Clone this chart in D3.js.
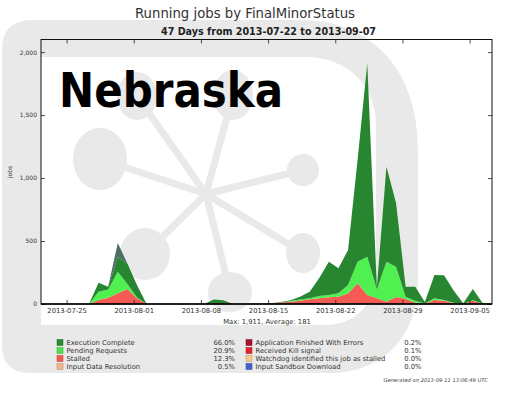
<!DOCTYPE html>
<html>
<head>
<meta charset="utf-8">
<script src="https://cdn.jsdelivr.net/npm/d3@7"></script>
<style>
  body { margin: 0; background: #fff; }
  svg { display: block; }
  text { font-family: "DejaVu Sans", sans-serif; }
</style>
</head>
<body>
<svg id="chart" width="517" height="398"></svg>
<script>
// one sample per day, taken at 08:00
const days = [
  "2013-07-22","2013-07-23","2013-07-24","2013-07-25","2013-07-26","2013-07-27","2013-07-28","2013-07-29",
  "2013-07-30","2013-07-31","2013-08-01","2013-08-02","2013-08-03","2013-08-04","2013-08-05","2013-08-06",
  "2013-08-07","2013-08-08","2013-08-09","2013-08-10","2013-08-11","2013-08-12","2013-08-13","2013-08-14",
  "2013-08-15","2013-08-16","2013-08-17","2013-08-18","2013-08-19","2013-08-20","2013-08-21","2013-08-22",
  "2013-08-23","2013-08-24","2013-08-25","2013-08-26","2013-08-27","2013-08-28","2013-08-29","2013-08-30",
  "2013-08-31","2013-09-01","2013-09-02","2013-09-03","2013-09-04","2013-09-05","2013-09-06","2013-09-07"
]
const sampleHour = 8

const appErrors = [0,0,0,0,0,0,0,0,0,0,0,0, 0,0,0,0,0,0,0,0,0,0,0,0,
  2,4,4,6,7,7,0,0,0,0,0,0,0,0,0,0,0,0,0,0,0,0,0,0]
const inputData = [0,0,0,0,0,0,0,0,0,0,0,0, 0,0,0,0,0,0,0,0,0,0,0,0,
  0,0,0,0,0,0,7,6,5,0,0,0,0,0,0,0,0,0,0,0,0,0,0,0]
const stalled = [0,0,0,0,0,0,32,50,85,120,45,0, 0,0,0,0,0,0,8,6,0,0,0,0,
  3,8,14,20,30,38,46,52,80,164,71,45,18,55,40,10,0,32,25,5,0,25,3,0]
const pending = [0,0,0,0,0,0,66,65,171,39,7,0, 0,0,0,0,0,0,0,0,0,0,0,0,
  0,0,5,10,8,19,18,27,66,172,305,70,318,241,18,16,3,13,7,5,0,5,0,0]
const execComplete = [0,0,0,0,0,0,71,22,119,163,98,0, 0,0,0,0,0,0,27,24,0,0,0,0,
  0,3,7,22,53,142,265,198,278,814,1535,17,754,506,79,111,12,185,196,98,5,90,7,0]
const sandbox = [0,0,0,0,0,0,0,0,109,0,0,0, 0,0,0,0,0,0,0,0,0,0,0,0,
  0,0,0,0,0,0,0,0,0,0,0,0,0,0,0,0,0,0,0,0,0,0,0,0]

const xTickLabels = ["2013-07-25","2013-08-01","2013-08-08","2013-08-15","2013-08-22","2013-08-29","2013-09-05"]
const yTicks = [0, 500, 1000, 1500, 2000]

const legendNames = ["Execution Complete","Pending Requests","Stalled","Input Data Resolution",
  "Application Finished With Errors","Received Kill signal","Watchdog identified this job as stalled","Input Sandbox Download"]
const legendPct = ["66.0%","20.9%","12.3%","0.5%","0.2%","0.1%","0.0%","0.0%"]
const legendColors = ["#2b8a2e","#4ee04e","#f25a4c","#f5b48a","#a3122c","#e2202c","#f7c88f","#4262c6"]

const title = "Running jobs by FinalMinorStatus"
const subtitle = "47 Days from 2013-07-22 to 2013-09-07"
const footer = "Max: 1,911, Average: 181"
const generated = "Generated on 2013-09-11 13:06:49 UTC"

const parseDay = d3.timeParse("%Y-%m-%d")
const svg = d3.select("#chart")
const grey = "#e9e9e9"

svg.append("rect").attr("width", 517).attr("height", 398).attr("fill", "#fff")

// --- grey logo watermark behind the figure
const logo = svg.append("g").attr("fill", grey)
logo.append("path")
  .attr("fill-rule", "evenodd")
  .attr("d", "M2,50 Q2,20 32,20 L300,20 C372,20 418,70 418,150 L418,280 C418,340 380,373 330,373 L30,373 Q2,373 2,345 Z " +
             "M41,57 L305,57 C347,57 376,85 376,125 L376,270 C376,305 355,325 325,325 L41,325 Z")
const hub = [206, 194]
const blobs = [[100,159,27,31],[137,96,20,24],[233,95,20,25],[145,254,25,26],[230,292,22,20],[303,170,16,16],[303,253,17,20]]
blobs.forEach(b => {
  logo.append("line").attr("x1", hub[0]).attr("y1", hub[1]).attr("x2", b[0]).attr("y2", b[1])
    .attr("stroke", grey).attr("stroke-width", 7)
  logo.append("ellipse").attr("cx", b[0]).attr("cy", b[1]).attr("rx", b[2]).attr("ry", b[3])
})

// --- stacked areas
const rows = days.map((d, i) => {
  const t = parseDay(d); t.setHours(sampleHour)
  return { date: t, appErrors: appErrors[i], inputData: inputData[i], stalled: stalled[i],
    pending: pending[i], execComplete: execComplete[i], sandbox: sandbox[i] }
})
const keys = ["appErrors","inputData","stalled","pending","execComplete","sandbox"]
const fills = { appErrors: "#a3122c", inputData: "#f5b48a", stalled: "#f55a55",
  pending: "#4ff04f", execComplete: "#288630", sandbox: "#4d6e66" }

const x = d3.scaleTime().domain([rows[0].date, rows[rows.length - 1].date]).range([41, 492])
const y = d3.scaleLinear().domain([0, 2100]).range([304, 39.5])

const series = d3.stack().keys(keys)(rows)
const area = d3.area()
  .x(d => x(d.data.date))
  .y0(d => y(d[0]))
  .y1(d => y(d[1]))

svg.append("g").selectAll("path")
  .data(series)
  .join("path")
  .attr("d", area)
  .attr("fill", d => fills[d.key])

// --- axes, ticks pointing inwards like matplotlib
const tickDates = xTickLabels.map(parseDay)
const xAxis = svg.append("g").attr("transform", "translate(0,304)")
  .call(d3.axisBottom(x).tickValues(tickDates).tickFormat(d3.timeFormat("%Y-%m-%d"))
    .tickSizeInner(-4).tickSizeOuter(0).tickPadding(4))
svg.append("g").attr("transform", "translate(0,39.5)")
  .call(d3.axisTop(x).tickValues(tickDates).tickFormat("").tickSizeInner(-4).tickSizeOuter(0))
const yAxis = svg.append("g").attr("transform", "translate(41,0)")
  .call(d3.axisLeft(y).tickValues(yTicks).tickFormat(d3.format(",")).tickSizeInner(-4).tickSizeOuter(0).tickPadding(4))
svg.append("g").attr("transform", "translate(492,0)")
  .call(d3.axisRight(y).tickValues(yTicks).tickFormat("").tickSizeInner(-4).tickSizeOuter(0))

svg.selectAll(".domain").remove()
svg.selectAll(".tick line").attr("stroke", "#222").attr("stroke-width", 0.8)
xAxis.selectAll("text").attr("font-size", 6.8).attr("fill", "#333")
yAxis.selectAll("text").attr("font-size", 6).attr("fill", "#333")

svg.append("rect")
  .attr("x", 41).attr("y", 39.5).attr("width", 451).attr("height", 264.5)
  .attr("fill", "none").attr("stroke", "#111").attr("stroke-width", 1)
svg.append("line").attr("x1", 41).attr("x2", 492).attr("y1", 304).attr("y2", 304)
  .attr("stroke", "#000").attr("stroke-width", 1.6)

svg.append("text").attr("transform", "translate(12,172) rotate(-90)")
  .attr("text-anchor", "middle").attr("font-size", 6).attr("fill", "#333").text("jobs")

// --- titles
svg.append("text").attr("x", 245).attr("y", 17.5).attr("text-anchor", "middle")
  .attr("font-size", 14).attr("fill", "#333")
  .attr("textLength", 220).attr("lengthAdjust", "spacingAndGlyphs").text(title)
svg.append("text").attr("x", 268.5).attr("y", 35).attr("text-anchor", "middle")
  .attr("font-size", 10).attr("font-weight", "bold").attr("fill", "#222")
  .attr("textLength", 215).attr("lengthAdjust", "spacingAndGlyphs").text(subtitle)
svg.append("text").attr("x", 267).attr("y", 323.5).attr("text-anchor", "middle")
  .attr("font-size", 6.8).attr("fill", "#333").text(footer)

// --- legend
const legend = svg.append("g")
legendNames.forEach((name, i) => {
  const col = i < 4 ? 0 : 1
  const row = i % 4
  const ly = 342.5 + row * 8
  const sx = col ? 246 : 57
  legend.append("rect").attr("x", sx).attr("y", ly - 3).attr("width", 6).attr("height", 6)
    .attr("fill", legendColors[i]).attr("stroke", d3.color(legendColors[i]).darker(0.8)).attr("stroke-width", 0.5)
  legend.append("text").attr("x", sx + 9.5).attr("y", ly + 2.5).attr("font-size", 6.8).attr("fill", "#333").text(name)
  legend.append("text").attr("x", col ? 421.5 : 235).attr("y", ly + 2.5).attr("text-anchor", "end")
    .attr("font-size", 6.8).attr("fill", "#333").text(legendPct[i])
})

svg.append("text").attr("x", 488).attr("y", 381.5).attr("text-anchor", "end")
  .attr("font-size", 5.2).attr("font-style", "italic").attr("fill", "#444").text(generated)

// --- big overlay label
svg.append("text").attr("x", 59).attr("y", 107)
  .attr("font-family", "'Open Sans', 'Noto Sans', sans-serif").attr("font-weight", 700)
  .attr("font-size", 48).attr("fill", "#000")
  .attr("textLength", 224).attr("lengthAdjust", "spacingAndGlyphs")
  .text("Nebraska")
</script>
</body>
</html>
